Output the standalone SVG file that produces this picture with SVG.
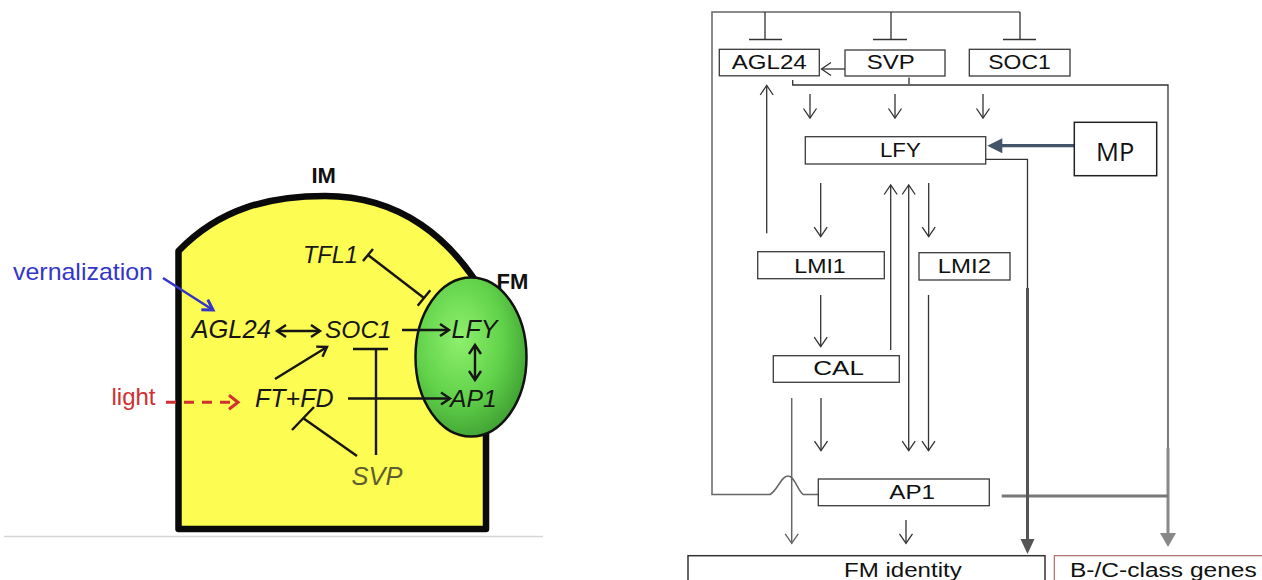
<svg xmlns="http://www.w3.org/2000/svg" width="1262" height="580" viewBox="0 0 1262 580">
<defs>
<style>
.lt{font-family:"Liberation Sans",Arial,sans-serif;font-style:italic;fill:#161616}
.lb{font-family:"Liberation Sans",Arial,sans-serif;font-weight:bold;fill:#111}
.ll{fill:none;stroke:#161616;stroke-width:2.4}
.box{fill:#fff;stroke:#3a3a3a;stroke-width:1.3}
.rt{font-family:"Liberation Sans",Arial,sans-serif;font-size:19.5px;fill:#111}
.rl{fill:none;stroke:#333;stroke-width:1.3}
.rg{fill:none;stroke:#666;stroke-width:1.5}
</style>
<radialGradient id="gfm" cx="0.4" cy="0.38" r="0.7">
<stop offset="0" stop-color="#8ff06e"/>
<stop offset="0.55" stop-color="#62d24a"/>
<stop offset="1" stop-color="#3a9a30"/>
</radialGradient>
<marker id="ao" markerUnits="userSpaceOnUse" viewBox="-12 -8 14 16" refX="0" refY="0" markerWidth="14" markerHeight="16" orient="auto-start-reverse">
<path d="M-9.5,-6.5 L0,0 L-9.5,6.5" fill="none" stroke="#333" stroke-width="1.3"/>
</marker>
<marker id="aog" markerUnits="userSpaceOnUse" viewBox="-12 -8 14 16" refX="0" refY="0" markerWidth="14" markerHeight="16" orient="auto-start-reverse">
<path d="M-9.5,-6.5 L0,0 L-9.5,6.5" fill="none" stroke="#666" stroke-width="1.4"/>
</marker>
<marker id="al" markerUnits="userSpaceOnUse" viewBox="-12 -9 15 18" refX="0" refY="0" markerWidth="15" markerHeight="18" orient="auto-start-reverse">
<path d="M-9,-6 L0,0 L-9,6" fill="none" stroke="#161616" stroke-width="2.4"/>
</marker>
<marker id="ar" markerUnits="userSpaceOnUse" viewBox="-12 -9 15 18" refX="-6" refY="0" markerWidth="15" markerHeight="18" orient="auto">
<path d="M-9,-7 L0,0 L-9,7" fill="none" stroke="#d03030" stroke-width="3"/>
</marker>
<marker id="ab" markerUnits="userSpaceOnUse" viewBox="-12 -9 15 18" refX="0" refY="0" markerWidth="15" markerHeight="18" orient="auto">
<path d="M-10,-6 L0,0 L-10,6" fill="none" stroke="#3535c8" stroke-width="3"/>
</marker>
<marker id="td" markerUnits="userSpaceOnUse" viewBox="-16 -9 17 18" refX="-8" refY="0" markerWidth="17" markerHeight="18" orient="auto">
<path d="M-15,-7 L0,0 L-15,7 Z" fill="#555"/>
</marker>
<marker id="tg" markerUnits="userSpaceOnUse" viewBox="-16 -9 17 18" refX="-7" refY="0" markerWidth="17" markerHeight="18" orient="auto">
<path d="M-14,-8 L0,0 L-14,8 Z" fill="#888"/>
</marker>
<marker id="ts" markerUnits="userSpaceOnUse" viewBox="-16 -9 17 18" refX="-8" refY="0" markerWidth="17" markerHeight="18" orient="auto">
<path d="M-15,-7.5 L0,0 L-15,7.5 Z" fill="#44546a"/>
</marker>
</defs>
<rect width="1262" height="580" fill="#fff"/>

<!-- LEFT PANEL -->
<g id="im-region">
<path d="M178.5,529 L178.5,251 C220,208 270,196 325,196 C400,196 452,238 486,298 L486,529 Z" fill="#fcfc52" stroke="#0a0a0a" stroke-width="6.5" stroke-linejoin="round"/>
<text class="lb" x="311.5" y="183" font-size="22">IM</text>
</g>
<g id="fm-region">
<ellipse cx="471" cy="357" rx="55.5" ry="79.5" fill="url(#gfm)" stroke="#111" stroke-width="2.5"/>
<text class="lb" x="496.5" y="288.5" font-size="22">FM</text>
</g>
<line x1="4" y1="536.5" x2="543" y2="536.5" stroke="#d6d6d6" stroke-width="1.5"/>

<g id="vernalization"><text x="13" y="280" font-family="Liberation Sans,Arial,sans-serif" font-size="24" fill="#3535c8" textLength="140" lengthAdjust="spacingAndGlyphs">vernalization</text></g>
<g id="light"><text x="111.5" y="405" font-family="Liberation Sans,Arial,sans-serif" font-size="24" fill="#d03030">light</text></g>
<g id="l-TFL1"><text class="lt" x="303" y="263.3" font-size="23.5">TFL1</text></g>
<g id="l-AGL24"><text class="lt" x="191.5" y="338.3" font-size="25.5">AGL24</text></g>
<g id="l-SOC1"><text class="lt" x="325" y="338.3" font-size="24.5">SOC1</text></g>
<g id="l-LFY"><text class="lt" x="451.5" y="338.3" font-size="25">LFY</text></g>
<g id="l-FTFD"><text class="lt" x="255" y="406.7" font-size="25">FT+FD</text></g>
<g id="l-AP1"><text class="lt" x="450" y="406.7" font-size="24.7">AP1</text></g>
<g id="l-SVP"><text class="lt" x="351.5" y="485" font-size="25.5" style="fill:#5d5d30">SVP</text></g>

<g id="left-connectors">
<line class="ll" x1="277" y1="331" x2="320" y2="331" marker-start="url(#al)" marker-end="url(#al)"/>
<line class="ll" x1="402" y1="330" x2="449" y2="330" marker-end="url(#al)"/>
<line class="ll" x1="475" y1="345" x2="475" y2="380" marker-start="url(#al)" marker-end="url(#al)"/>
<line class="ll" x1="275" y1="379" x2="327" y2="347" marker-end="url(#al)"/>
<line class="ll" x1="348" y1="398.5" x2="450" y2="398.5" marker-end="url(#al)"/>
<line class="ll" x1="368" y1="255" x2="424" y2="298"/>
<line class="ll" x1="417.7" y1="305.7" x2="430.3" y2="290.3"/>
<line class="ll" x1="363" y1="261" x2="373" y2="249"/>
<line class="ll" x1="376" y1="349" x2="376" y2="455"/>
<line class="ll" x1="353" y1="349" x2="388" y2="349"/>
<line class="ll" x1="357" y1="456" x2="303" y2="418"/>
<line class="ll" x1="292" y1="430" x2="314" y2="407"/>
<line x1="166" y1="402.3" x2="232" y2="402.3" stroke="#d03030" stroke-width="3" stroke-dasharray="10 8" marker-end="url(#ar)"/>
<line x1="163" y1="278" x2="213" y2="310" stroke="#3535c8" stroke-width="2.5" marker-end="url(#ab)"/>
</g>

<!-- RIGHT PANEL -->
<g id="connectors">
<path class="rg" d="M818,494.5 L803.3,494.5 C797,490 795,476 788,476 C781,476 778,490 770,494.5 L712,494.5 L712,12 L1020,12"/>
<path class="rl" d="M765,12 V39.5 M749,39.5 H782 M891,12 V39.5 M873,39.5 H907 M1020,12 V39.5 M1003,39.5 H1036"/>
<path class="rl" d="M845,69 H821.5" marker-end="url(#ao)"/>
<path class="rl" d="M792.7,80 V85 H1168 V448 M909,77.5 V84"/>
<path d="M1168,448 V540" fill="none" stroke="#888" stroke-width="3" marker-end="url(#tg)"/>
<path d="M1001.7,496 H1168" fill="none" stroke="#777" stroke-width="3"/>
<path class="rl" d="M810,94 V118" marker-end="url(#ao)"/>
<path class="rl" d="M895,94 V118" marker-end="url(#ao)"/>
<path class="rl" d="M983,94 V118" marker-end="url(#ao)"/>
<path d="M1074.3,145.7 H995.3" fill="none" stroke="#44546a" stroke-width="3.2" marker-end="url(#ts)"/>
<path class="rl" d="M985.7,159.3 H1027.5 V288"/>
<path d="M1027.5,288 V546" fill="none" stroke="#555" stroke-width="3" marker-end="url(#td)"/>
<path class="rl" d="M766.7,233.3 V85.5" marker-end="url(#ao)"/>
<path class="rl" d="M820.7,183 V236.7" marker-end="url(#ao)"/>
<path class="rl" d="M890.7,350 V185" marker-end="url(#ao)"/>
<path class="rl" d="M908.7,185 V450.7" marker-start="url(#ao)" marker-end="url(#ao)"/>
<path class="rl" d="M928.7,183 V236.7" marker-end="url(#ao)"/>
<path class="rl" d="M928.5,295 V450.7" marker-end="url(#ao)"/>
<path class="rl" d="M820.7,295 V346.7" marker-end="url(#ao)"/>
<path class="rl" d="M821,398 V450.7" marker-end="url(#ao)"/>
<path class="rg" d="M791.7,398 V543.3" marker-end="url(#aog)"/>
<path class="rl" d="M906,520 V543.3" marker-end="url(#ao)"/>
</g>

<g id="AGL24"><rect class="box" x="719.3" y="49.3" width="100" height="26.5"/><text class="rt" x="731.7" y="69" textLength="75" lengthAdjust="spacingAndGlyphs">AGL24</text></g>
<g id="SVP"><rect class="box" x="845" y="50" width="100" height="26"/><text class="rt" x="866.7" y="69" textLength="48" lengthAdjust="spacingAndGlyphs">SVP</text></g>
<g id="SOC1"><rect class="box" x="969.3" y="49.3" width="100.7" height="26.7"/><text class="rt" x="988.3" y="69" textLength="62.4" lengthAdjust="spacingAndGlyphs">SOC1</text></g>
<g id="LFY"><rect class="box" x="805.3" y="136.7" width="180.4" height="27.3"/><text class="rt" x="880" y="157" textLength="40.7" lengthAdjust="spacingAndGlyphs">LFY</text></g>
<g id="MP"><rect x="1074.3" y="122.3" width="82.4" height="53.4" fill="#fff" stroke="#222" stroke-width="1.5"/><text x="1096" y="161" font-family="Open Sans,Noto Sans,sans-serif" font-size="25.5" fill="#111">MP</text></g>
<g id="LMI1"><rect class="box" x="757.7" y="251.7" width="126.6" height="27"/><text class="rt" x="794.3" y="272.7" textLength="51.4" lengthAdjust="spacingAndGlyphs">LMI1</text></g>
<g id="LMI2"><rect class="box" x="919" y="252.7" width="91" height="27.3"/><text class="rt" x="937.7" y="273.3" textLength="53.3" lengthAdjust="spacingAndGlyphs">LMI2</text></g>
<g id="CAL"><rect class="box" x="773.3" y="355.7" width="126" height="26.6"/><text class="rt" x="813.3" y="375" textLength="50.7" lengthAdjust="spacingAndGlyphs">CAL</text></g>
<g id="AP1"><rect class="box" x="818.3" y="479" width="171" height="26.7"/><text class="rt" x="889.3" y="499" textLength="45.7" lengthAdjust="spacingAndGlyphs">AP1</text></g>
<g id="FM-identity"><rect class="box" x="688" y="555.7" width="357" height="40" style="stroke:#333;stroke-width:1.5"/><text class="rt" x="844" y="576.5" textLength="117.7" lengthAdjust="spacingAndGlyphs">FM identity</text></g>
<g id="BC-class"><rect x="1054.3" y="555.7" width="220" height="40" fill="#fff" stroke="#b06a6a" stroke-width="1.2"/><text class="rt" x="1070" y="576.5" textLength="186.7" lengthAdjust="spacingAndGlyphs">B-/C-class genes</text></g>
</svg>
